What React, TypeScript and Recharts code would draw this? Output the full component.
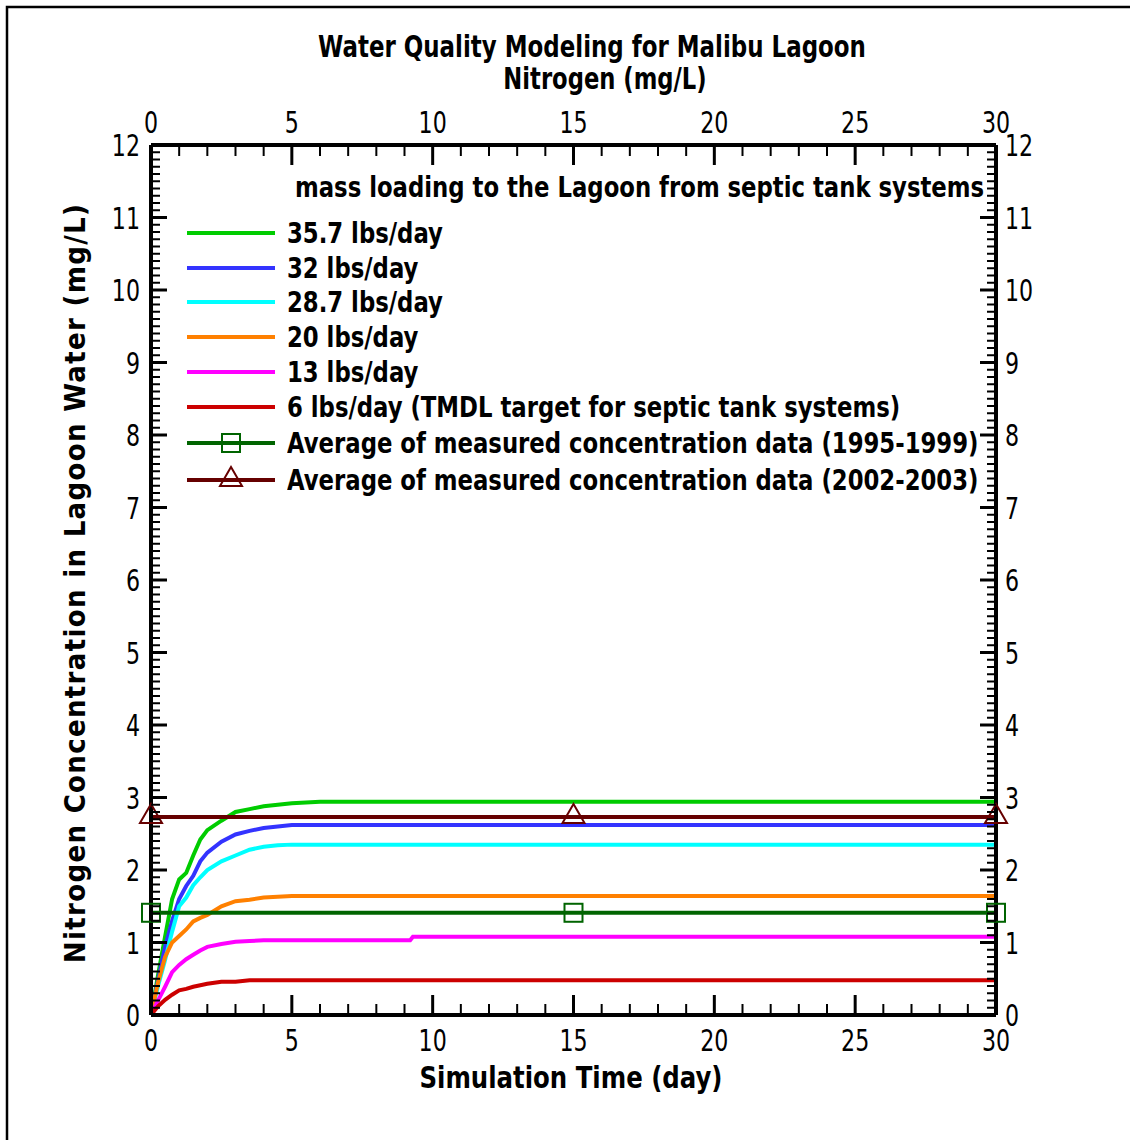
import React from 'react';
import { LineChart, Line, XAxis, YAxis, Legend } from 'recharts';

const FONT = "'Liberation Sans Narrow', 'DejaVu Sans Condensed', 'Liberation Sans', sans-serif";

// time (day) at which the curves were read
const timeDays = [0, 0.25, 0.5, 0.75, 1, 1.25, 1.5, 1.75, 2, 2.5, 3, 3.5, 4, 4.5, 5, 6, 9.2, 9.3, 30];

// nitrogen (mg/L) for each septic loading
const load357 = [0, 0.55, 1.08, 1.6, 1.87, 1.96, 2.2, 2.42, 2.55, 2.68, 2.8, 2.84, 2.88, 2.9, 2.92, 2.94, 2.94, 2.94, 2.94];
const load32 = [0, 0.48, 0.94, 1.3, 1.6, 1.78, 1.92, 2.12, 2.24, 2.39, 2.49, 2.54, 2.58, 2.6, 2.62, 2.62, 2.62, 2.62, 2.62];
const load287 = [0, 0.4, 0.76, 1.15, 1.5, 1.62, 1.79, 1.9, 2.0, 2.12, 2.2, 2.28, 2.32, 2.34, 2.35, 2.35, 2.35, 2.35, 2.35];
const load20 = [0, 0.45, 0.8, 1.0, 1.09, 1.18, 1.29, 1.34, 1.38, 1.5, 1.57, 1.59, 1.62, 1.63, 1.64, 1.64, 1.64, 1.64, 1.64];
const load13 = [0, 0.2, 0.39, 0.59, 0.69, 0.77, 0.83, 0.89, 0.94, 0.98, 1.01, 1.02, 1.03, 1.03, 1.03, 1.03, 1.03, 1.08, 1.08];
const load6 = [0, 0.12, 0.21, 0.28, 0.34, 0.36, 0.39, 0.41, 0.43, 0.46, 0.46, 0.48, 0.48, 0.48, 0.48, 0.48, 0.48, 0.48, 0.48];

// measured averages, symbols at 0, 15, 30 days
const avgTimes = [0, 15, 30];
const avg9599 = [1.41, 1.41, 1.41];
const avg0203 = [2.73, 2.73, 2.73];

const xTicks = Array.from({ length: 31 }, (_, i) => i);
const yTicks = Array.from({ length: 121 }, (_, i) => i / 10);

const curves = [
  { name: '35.7 lbs/day', color: '#00cc00', values: load357 },
  { name: '32 lbs/day', color: '#3333ff', values: load32 },
  { name: '28.7 lbs/day', color: '#00ffff', values: load287 },
  { name: '20 lbs/day', color: '#ff8000', values: load20 },
  { name: '13 lbs/day', color: '#ff00ff', values: load13 },
  { name: '6 lbs/day (TMDL target for septic tank systems)', color: '#cc0000', values: load6 },
];

const averages = [
  { name: 'Average of measured concentration data (1995-1999)', color: '#006400', values: avg9599, shape: 'square' },
  { name: 'Average of measured concentration data (2002-2003)', color: '#660000', values: avg0203, shape: 'triangle' },
];

const toRows = (times: number[], values: number[]) => times.map((t, i) => ({ t, v: values[i] }));

const tickFont = { fontFamily: FONT, fontSize: 30, fill: '#000' };

// narrow tick label, squeezed horizontally around its anchor point
const TickText = ({ x, y, anchor, children }: any) => (
  <text transform={`translate(${x} ${y}) scale(0.82 1)`} textAnchor={anchor} {...tickFont}>{children}</text>
);

const BottomTick = (props: any) => {
  const { x, y, payload } = props;
  const major = payload.value % 5 === 0;
  return (
    <g>
      <line x1={x} y1={y} x2={x} y2={y - (major ? 20 : 11)} stroke="#000" strokeWidth={major ? 3 : 2} />
      {major && <TickText x={x} y={y + 36} anchor="middle">{payload.value}</TickText>}
    </g>
  );
};

const TopTick = (props: any) => {
  const { x, y, payload } = props;
  const major = payload.value % 5 === 0;
  return (
    <g>
      <line x1={x} y1={y} x2={x} y2={y + (major ? 20 : 11)} stroke="#000" strokeWidth={major ? 3 : 2} />
      {major && <TickText x={x} y={y - 12} anchor="middle">{payload.value}</TickText>}
    </g>
  );
};

const LeftTick = (props: any) => {
  const { x, y, payload } = props;
  const major = Math.abs(payload.value - Math.round(payload.value)) < 1e-6;
  return (
    <g>
      <line x1={x} y1={y} x2={x + (major ? 16 : 9)} y2={y} stroke="#000" strokeWidth={major ? 3 : 2} />
      {major && <TickText x={x - 11} y={y + 11} anchor="end">{Math.round(payload.value)}</TickText>}
    </g>
  );
};

const RightTick = (props: any) => {
  const { x, y, payload } = props;
  const major = Math.abs(payload.value - Math.round(payload.value)) < 1e-6;
  return (
    <g>
      <line x1={x} y1={y} x2={x - (major ? 16 : 9)} y2={y} stroke="#000" strokeWidth={major ? 3 : 2} />
      {major && <TickText x={x + 9} y={y + 11} anchor="start">{Math.round(payload.value)}</TickText>}
    </g>
  );
};

const Marker = ({ cx, cy, color, shape }: any) =>
  shape === 'square' ? (
    <rect x={cx - 9} y={cy - 9} width={18} height={18} fill="none" stroke={color} strokeWidth={2} />
  ) : (
    <polygon points={`${cx},${cy - 13} ${cx - 11},${cy + 6} ${cx + 11},${cy + 6}`} fill="none" stroke={color} strokeWidth={2} />
  );

const legendTops = [233, 268, 302, 337, 372, 407, 443, 480];
const squeeze: React.CSSProperties = { display: 'inline-block', transform: 'scaleX(0.873)', transformOrigin: 'left center' };

const LegendBox = () => {
  const items = [...curves.map((c) => ({ ...c, shape: '' })), ...averages];
  return (
    <div style={{ position: 'relative', fontFamily: FONT, fontWeight: 'bold', fontSize: 29, color: '#000' }}>
      <div style={{ position: 'absolute', left: 295, top: 187 - 17, lineHeight: '34px', whiteSpace: 'nowrap' }}>
        <span style={squeeze}>mass loading to the Lagoon from septic tank systems</span>
      </div>
      {items.map((it, i) => (
        <div key={it.name} style={{ position: 'absolute', left: 185, top: legendTops[i] - 17, height: 34, display: 'flex', alignItems: 'center', whiteSpace: 'nowrap' }}>
          <svg width={102} height={34} style={{ display: 'block' }}>
            <line x1={2} y1={17} x2={90} y2={17} stroke={it.color} strokeWidth={4} />
            {it.shape && <Marker cx={46} cy={17} color={it.color} shape={it.shape} />}
          </svg>
          <span style={{ ...squeeze, lineHeight: '34px' }}>{it.name}</span>
        </div>
      ))}
    </div>
  );
};

const centered = (cx: number, cy: number, sx: number, extra: React.CSSProperties = {}): React.CSSProperties => ({
  position: 'absolute',
  left: cx,
  top: cy,
  transform: `translate(-50%, -50%) scaleX(${sx})`,
  whiteSpace: 'nowrap',
  lineHeight: 1,
  fontFamily: FONT,
  fontWeight: 'bold',
  color: '#000',
  ...extra,
});

export default function App() {
  return (
    <div style={{ position: 'absolute', left: 0, top: 0, width: 1130, height: 1140, background: '#fff', overflow: 'hidden' }}>
      <LineChart width={1130} height={1140} margin={{ top: 115, right: 94, bottom: 95, left: 111 }}>
        <XAxis xAxisId="bottom" orientation="bottom" dataKey="t" type="number" domain={[0, 30]} ticks={xTicks} interval={0}
          height={30} tickSize={0} tickMargin={0} axisLine={{ stroke: '#000', strokeWidth: 4 }} tickLine={false} tick={<BottomTick />} />
        <XAxis xAxisId="top" orientation="top" dataKey="t" type="number" domain={[0, 30]} ticks={xTicks} interval={0}
          height={30} tickSize={0} tickMargin={0} axisLine={{ stroke: '#000', strokeWidth: 4 }} tickLine={false} tick={<TopTick />} />
        <YAxis yAxisId="left" orientation="left" type="number" domain={[0, 12]} ticks={yTicks} interval={0}
          width={40} tickSize={0} tickMargin={0} axisLine={{ stroke: '#000', strokeWidth: 4 }} tickLine={false} tick={<LeftTick />} />
        <YAxis yAxisId="right" orientation="right" type="number" domain={[0, 12]} ticks={yTicks} interval={0}
          width={40} tickSize={0} tickMargin={0} axisLine={{ stroke: '#000', strokeWidth: 4 }} tickLine={false} tick={<RightTick />} />
        <Legend layout="vertical" align="center" verticalAlign="middle" content={<LegendBox />}
          wrapperStyle={{ position: 'absolute', top: 0, left: 0, width: 1130, height: 0 }} />
        {curves.map((c) => (
          <Line key={c.name} xAxisId="bottom" yAxisId="left" name={c.name} data={toRows(timeDays, c.values)} dataKey="v"
            type="linear" stroke={c.color} strokeWidth={4} dot={false} activeDot={false} isAnimationActive={false} />
        ))}
        {averages.map((a) => (
          <Line key={a.name} xAxisId="top" yAxisId="right" name={a.name} data={toRows(avgTimes, a.values)} dataKey="v"
            type="linear" stroke={a.color} strokeWidth={4} activeDot={false} isAnimationActive={false}
            dot={(p: any) => <Marker key={`${a.name}-${p.index}`} cx={p.cx} cy={p.cy} color={a.color} shape={a.shape} />} />
        ))}
      </LineChart>
      <div style={centered(592, 47, 0.85, { fontSize: 30 })}>Water Quality Modeling for Malibu Lagoon</div>
      <div style={centered(605, 79, 0.84, { fontSize: 30 })}>Nitrogen (mg/L)</div>
      <div style={centered(571, 1077, 0.875, { fontSize: 31 })}>Simulation Time (day)</div>
      <div style={centered(75, 583, 1, { fontSize: 29, letterSpacing: 1.3, transform: 'translate(-50%, -50%) rotate(-90deg)' })}>
        Nitrogen Concentration in Lagoon Water (mg/L)
      </div>
      <svg width={1130} height={1140} style={{ position: 'absolute', left: 0, top: 0, pointerEvents: 'none' }}>
        <rect x={7} y={7} width={1140} height={1150} fill="none" stroke="#000" strokeWidth={2.5} />
      </svg>
    </div>
  );
}
